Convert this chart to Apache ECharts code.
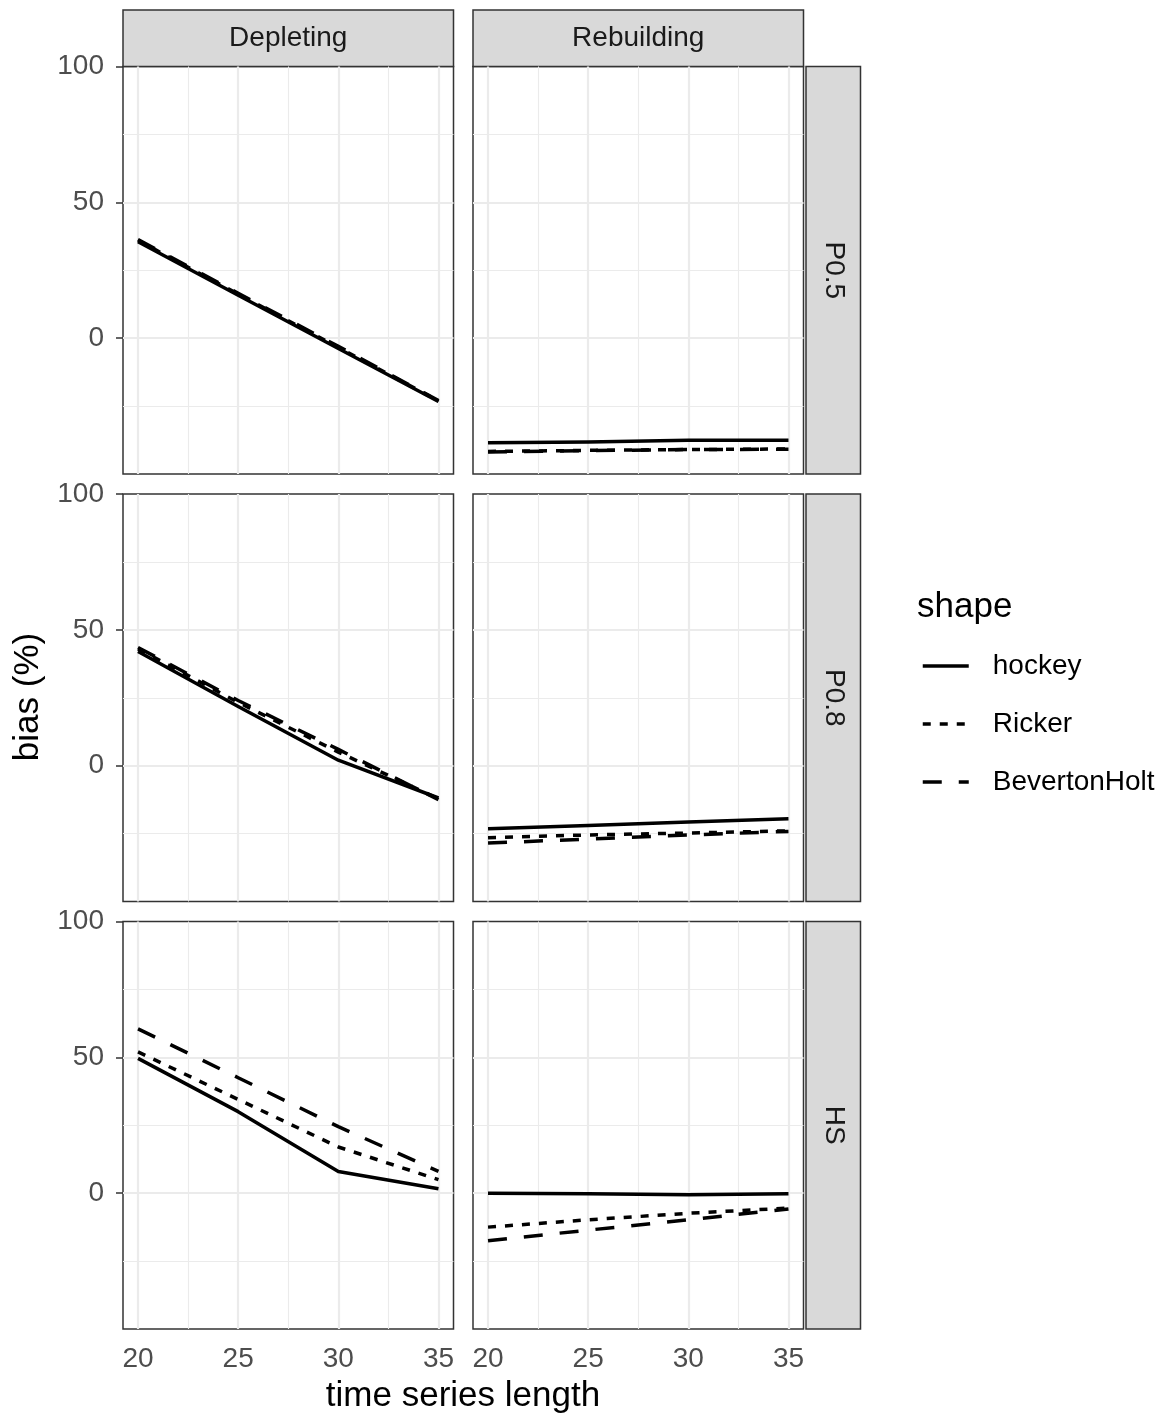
<!DOCTYPE html>
<html>
<head>
<meta charset="utf-8">
<script src="https://cdn.jsdelivr.net/npm/echarts@6/dist/echarts.min.js"></script>
<style>
html, body { margin: 0; padding: 0; background: #fff; }
#chart { width: 1173px; height: 1419px; }
</style>
</head>
<body>
<div id="chart"></div>
<script>
const lengths = [20, 25, 30, 35];
const shapes = ['hockey', 'Ricker', 'BevertonHolt'];
const scenarios = ['Depleting', 'Rebuilding'];
const productivity = ['P0.5', 'P0.8', 'HS'];

// bias (%) per panel
const hockeyDepP05 = [35.5, 15.8, -3.8, -23.3];
const rickerDepP05 = [36.0, 16.2, -3.4, -23.1];
const bevholtDepP05 = [36.3, 16.5, -3.0, -23.0];
const hockeyRebP05 = [-38.5, -38.2, -37.6, -37.6];
const rickerRebP05 = [-41.7, -41.3, -41.0, -40.8];
const bevholtRebP05 = [-41.9, -41.4, -41.0, -40.9];

const hockeyDepP08 = [42.0, 21.8, 2.0, -11.9];
const rickerDepP08 = [43.0, 23.3, 5.0, -12.2];
const bevholtDepP08 = [43.5, 24.0, 6.0, -12.5];
const hockeyRebP08 = [-23.2, -22.0, -20.7, -19.5];
const rickerRebP08 = [-26.5, -25.5, -24.8, -24.0];
const bevholtRebP08 = [-28.5, -27.0, -25.5, -24.2];

const hockeyDepHS = [49.6, 30.0, 8.0, 1.6];
const rickerDepHS = [52.0, 34.5, 17.0, 5.0];
const bevholtDepHS = [60.5, 42.5, 24.5, 8.0];
const hockeyRebHS = [0.0, -0.2, -0.6, -0.2];
const rickerRebHS = [-12.5, -9.8, -7.4, -5.5];
const bevholtRebHS = [-17.5, -13.6, -9.8, -5.8];

const xBreaks = [20, 25, 30, 35];
const xMinorBreaks = [22.5, 27.5, 32.5];
const yBreaks = [0, 50, 100];
const yMinorBreaks = [-25, 25, 75];

// panels[row][col] -> one array per shape
const panels = [
  [[hockeyDepP05, rickerDepP05, bevholtDepP05], [hockeyRebP05, rickerRebP05, bevholtRebP05]],
  [[hockeyDepP08, rickerDepP08, bevholtDepP08], [hockeyRebP08, rickerRebP08, bevholtRebP08]],
  [[hockeyDepHS, rickerDepHS, bevholtDepHS], [hockeyRebHS, rickerRebHS, bevholtRebHS]]
];

const font = 'Liberation Sans, Arial, Helvetica, sans-serif';
const colLeft = [123, 473];
const colWidth = 330.5;
const rowTop = [66.5, 494, 921.5];
const rowHeight = 407.5;
const xMin = 19.25, xMax = 35.75;
const yMin = -50, yMax = 100;
const lineTypes = ['solid', [8, 9], [19, 17]];

const grids = [], xAxes = [], yAxes = [], series = [], graphics = [];

panels.forEach((row, r) => {
  row.forEach((cell, c) => {
    const idx = grids.length;
    grids.push({
      left: colLeft[c], top: rowTop[r], width: colWidth, height: rowHeight,
      show: true, backgroundColor: '#fff', borderColor: '#333', borderWidth: 1.5
    });
    const bottomRow = r === panels.length - 1;
    xAxes.push({
      type: 'value', gridIndex: idx, min: xMin, max: xMax,
      splitLine: { show: false },
      axisLine: { show: false },
      axisTick: { show: bottomRow, length: 7, customValues: xBreaks, lineStyle: { color: '#333', width: 1.5 } },
      axisLabel: { show: bottomRow, customValues: xBreaks, margin: 16, color: '#4D4D4D', fontSize: 28, fontFamily: font }
    });
    yAxes.push({
      type: 'value', gridIndex: idx, min: yMin, max: yMax,
      splitLine: { show: false },
      axisLine: { show: false },
      axisTick: { show: c === 0, length: 7, customValues: yBreaks, lineStyle: { color: '#333', width: 1.5 } },
      axisLabel: { show: c === 0, customValues: yBreaks, margin: 19, color: '#4D4D4D', fontSize: 28, fontFamily: font }
    });

    // panel grid lines, kept under the data lines
    const gl = (axis, v, w) => ({ [axis]: v, lineStyle: { color: '#EBEBEB', width: w, type: 'solid' } });
    const inside = (v, lo, hi) => v > lo && v < hi;
    series.push({
      type: 'line', xAxisIndex: idx, yAxisIndex: idx, data: [], silent: true, z: 1,
      markLine: {
        z: 1, silent: true, symbol: ['none', 'none'], label: { show: false }, animation: false,
        data: [
          ...xMinorBreaks.filter(v => inside(v, xMin, xMax)).map(v => gl('xAxis', v, 1.1)),
          ...yMinorBreaks.filter(v => inside(v, yMin, yMax)).map(v => gl('yAxis', v, 1.1)),
          ...xBreaks.filter(v => inside(v, xMin, xMax)).map(v => gl('xAxis', v, 2.2)),
          ...yBreaks.filter(v => inside(v, yMin, yMax)).map(v => gl('yAxis', v, 2.2))
        ]
      }
    });

    cell.forEach((vals, s) => {
      series.push({
        name: shapes[s], type: 'line', xAxisIndex: idx, yAxisIndex: idx, z: 3,
        symbol: 'none', silent: true,
        data: lengths.map((x, i) => [x, vals[i]]),
        lineStyle: { color: '#000', width: 3.5, type: lineTypes[s], cap: 'butt', join: 'round' }
      });
    });
  });
});

// facet strips
scenarios.forEach((name, c) => {
  graphics.push({ type: 'rect', shape: { x: colLeft[c], y: 10, width: colWidth, height: rowTop[0] - 10 },
    style: { fill: '#D9D9D9', stroke: '#333', lineWidth: 1.5 } });
  graphics.push({ type: 'text', x: colLeft[c] + colWidth / 2, y: (10 + rowTop[0]) / 2,
    style: { text: name, fontSize: 28, fontFamily: font, fill: '#1A1A1A', align: 'center', verticalAlign: 'middle' } });
});
productivity.forEach((name, r) => {
  graphics.push({ type: 'rect', shape: { x: 806, y: rowTop[r], width: 54.5, height: rowHeight },
    style: { fill: '#D9D9D9', stroke: '#333', lineWidth: 1.5 } });
  graphics.push({ type: 'text', x: 833.25, y: rowTop[r] + rowHeight / 2, rotation: -Math.PI / 2,
    style: { text: name, fontSize: 28, fontFamily: font, fill: '#1A1A1A', align: 'center', verticalAlign: 'middle' } });
});

// axis titles and legend title
graphics.push({ type: 'text', x: 463, y: 1396,
  style: { text: 'time series length', fontSize: 35, fontFamily: font, fill: '#000', align: 'center', verticalAlign: 'middle' } });
graphics.push({ type: 'text', x: 28, y: 697, rotation: Math.PI / 2,
  style: { text: 'bias (%)', fontSize: 35, fontFamily: font, fill: '#000', align: 'center', verticalAlign: 'middle' } });
graphics.push({ type: 'text', x: 917, y: 607,
  style: { text: 'shape', fontSize: 35, fontFamily: font, fill: '#000', align: 'left', verticalAlign: 'middle' } });

const chart = echarts.init(document.getElementById('chart'), null, { renderer: 'canvas' });
chart.setOption({
  animation: false,
  backgroundColor: '#fff',
  grid: grids,
  xAxis: xAxes,
  yAxis: yAxes,
  series: series,
  graphic: graphics,
  legend: {
    data: shapes, orient: 'vertical', left: 921, top: 652, padding: 0,
    itemWidth: 46, itemHeight: 28, itemGap: 30, selectedMode: false,
    lineStyle: { width: 3.5 }, itemStyle: { opacity: 0 },
    textStyle: { fontSize: 28, fontFamily: font, color: '#000', padding: [0, 0, 0, 19] }
  }
});
</script>
</body>
</html>
